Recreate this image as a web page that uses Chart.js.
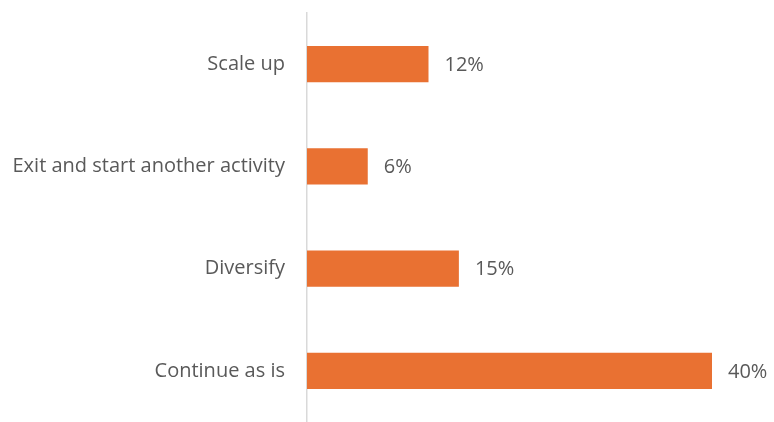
<!DOCTYPE html>
<html>
<head>
<meta charset="utf-8">
<script src="https://cdn.jsdelivr.net/npm/chart.js@4"></script>
<style>
  html, body { margin: 0; padding: 0; background: #fff; overflow: hidden; }
  canvas { display: block; }
</style>
</head>
<body>
<canvas id="mycanvas" width="774" height="422"></canvas>
<script>
var categories = ['Scale up', 'Exit and start another activity', 'Diversify', 'Continue as is'];
var shares = [12, 6, 15, 40];

// writes "NN%" just past the end of each bar
var valueLabels = {
  id: 'valueLabels',
  afterDatasetsDraw: function(chart) {
    var ctx = chart.ctx;
    var meta = chart.getDatasetMeta(0);
    ctx.save();
    ctx.font = '20px "Open Sans", sans-serif';
    ctx.fillStyle = '#595959';
    ctx.textAlign = 'left';
    ctx.textBaseline = 'middle';
    meta.data.forEach(function(bar, i) {
      ctx.fillText(shares[i] + '%', bar.x + 16, bar.y + 1);
    });
    ctx.restore();
  }
};

var ctx = document.getElementById('mycanvas');
var barGraph = new Chart(ctx, {
  type: 'bar',
  data: {
    labels: categories,
    datasets: [{
      data: shares,
      backgroundColor: '#E97132',
      barPercentage: 0.355,
      categoryPercentage: 1
    }]
  },
  options: {
    indexAxis: 'y',
    responsive: false,
    animation: false,
    layout: { padding: { top: 13, right: 62, bottom: 0, left: 0 } },
    plugins: {
      legend: { display: false },
      tooltip: { enabled: false }
    },
    scales: {
      x: {
        display: false,
        min: 0,
        max: 40
      },
      y: {
        afterFit: function(scale) {
          scale.width = 307;
          // let the axis line run the full height
          scale.paddingTop = 0;
          scale.paddingBottom = 0;
        },
        grid: { display: false, drawTicks: false },
        border: { display: true, color: '#d9d9d9', width: 1.5 },
        ticks: {
          padding: 22,
          color: '#595959',
          font: { family: '"Open Sans", sans-serif', size: 20 }
        }
      }
    }
  },
  plugins: [valueLabels]
});
</script>
</body>
</html>
